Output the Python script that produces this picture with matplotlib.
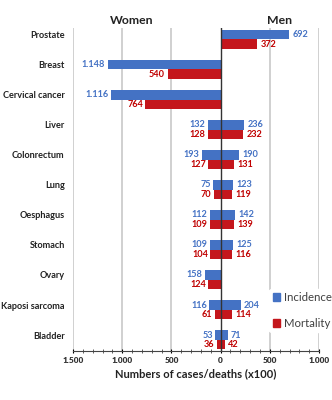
import matplotlib.pyplot as plt
from matplotlib.ticker import MultipleLocator, FixedLocator
from matplotlib.patches import Patch

plt.rcParams['font.family'] = ['Lato', 'DejaVu Sans']

# cancer sites, top to bottom
sites = ["Prostate", "Breast", "Cervical cancer", "Liver", "Colonrectum", "Lung",
         "Oesphagus", "Stomach", "Ovary", "Kaposi sarcoma", "Bladder"]

# cases/deaths (x100); None where the site does not apply
women_inc = [None, 1148, 1116, 132, 193, 75, 112, 109, 158, 116, 53]
women_mort = [None, 540, 764, 128, 127, 70, 109, 104, 124, 61, 36]
men_inc = [692, None, None, 236, 190, 123, 142, 125, None, 204, 71]
men_mort = [372, None, None, 232, 131, 119, 139, 116, None, 114, 42]

xticks = [-1500, -1000, -500, 0, 500, 1000]
xtick_labels = ["1.500", "1.000", "500", "0", "500", "1.000"]

blue = "#4472C4"
red = "#C4161C"
blue_txt = "#4472C4"
red_txt = "#C00000"
val_fs = 6.6


def fmt(v):
    return f"{v:,}".replace(",", ".")


fig = plt.figure(figsize=(3.32, 4.0), dpi=100)
ax = fig.add_axes([0.22, 0.1225, 0.741, 0.8075])

h = 0.32
for i, site in enumerate(sites):
    yb = i - h / 2
    yr = i + h / 2
    if women_inc[i] is not None:
        ax.barh(yb, -women_inc[i], height=h, color=blue, zorder=3)
        ax.text(-women_inc[i] - 25, yb, fmt(women_inc[i]), color=blue_txt,
                fontsize=val_fs, fontweight="bold", ha="right", va="center", zorder=4)
    if women_mort[i] is not None:
        ax.barh(yr, -women_mort[i], height=h, color=red, zorder=3)
        ax.text(-women_mort[i] - 25, yr, fmt(women_mort[i]), color=red_txt,
                fontsize=val_fs, fontweight="bold", ha="right", va="center", zorder=4)
    if men_inc[i] is not None:
        ax.barh(yb, men_inc[i], height=h, color=blue, zorder=3)
        ax.text(men_inc[i] + 35, yb, fmt(men_inc[i]), color=blue_txt,
                fontsize=val_fs, fontweight="bold", ha="left", va="center", zorder=4)
    if men_mort[i] is not None:
        ax.barh(yr, men_mort[i], height=h, color=red, zorder=3)
        ax.text(men_mort[i] + 35, yr, fmt(men_mort[i]), color=red_txt,
                fontsize=val_fs, fontweight="bold", ha="left", va="center", zorder=4)

ax.set_xlim(-1500, 1000)
ax.set_ylim(10.37, -0.38)

# category names sit level with the incidence bar
ax.set_yticks([i - h / 2 for i in range(len(sites))])
ax.set_yticklabels(sites, fontsize=6.6, fontweight="bold", color="#222222")
ax.tick_params(axis="y", length=0, pad=6)

ax.xaxis.set_major_locator(FixedLocator(xticks))
ax.set_xticklabels(xtick_labels, fontsize=6.0, fontweight="heavy", color="#333333")
ax.xaxis.set_minor_locator(MultipleLocator(100))
ax.tick_params(axis="x", which="major", length=3, width=0.8, direction="inout", pad=3)
ax.tick_params(axis="x", which="minor", length=2.5, width=0.6, direction="inout", color="#444444")

for x in xticks:
    if x != 0:
        ax.axvline(x, color="#C8C8C8", lw=1.2, zorder=1)
ax.axvline(0, color="#333333", lw=1.0, zorder=5)

for s in ["top", "left", "right"]:
    ax.spines[s].set_visible(False)
ax.spines["bottom"].set_color("#444444")
ax.spines["bottom"].set_linewidth(0.8)

ax.set_xlabel("Numbers of cases/deaths (x100)", fontsize=8.0, fontweight="bold",
              color="#222222", labelpad=3)

ax.text(-900, -0.63, "Women", fontsize=8.8, fontweight="bold", ha="center",
        va="center", color="#222222")
ax.text(600, -0.63, "Men", fontsize=8.8, fontweight="bold", ha="center",
        va="center", color="#222222", clip_on=False)

handles = [Patch(color=blue, label="Incidence"), Patch(color=red, label="Mortality")]
leg = ax.legend(handles=handles, loc="center left", bbox_to_anchor=(0.775, 0.125),
                frameon=True, fontsize=8.2, handlelength=0.65, handleheight=0.65,
                handletextpad=0.3, labelspacing=1.3, borderpad=0.3, framealpha=1,
                edgecolor="white", facecolor="white")
for t in leg.get_texts():
    t.set_color("#404040")
leg.set_zorder(6)

fig.savefig("out.png", dpi=100)
